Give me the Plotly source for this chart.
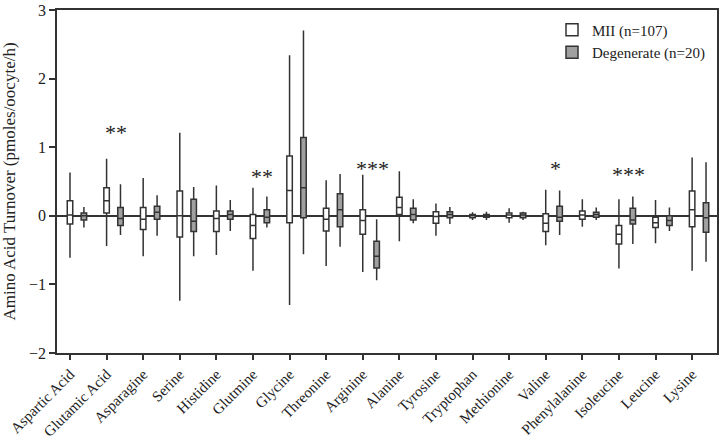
import plotly.graph_objects as go

categories = ["Aspartic Acid", "Glutamic Acid", "Asparagine", "Serine", "Histidine",
              "Glutmine", "Glycine", "Threonine", "Arginine", "Alanine", "Tyrosine",
              "Tryptophan", "Methionine", "Valine", "Phenylalanine", "Isoleucine",
              "Leucine", "Lysine"]

# MII (n=107)
mii_low = [-0.61, -0.44, -0.59, -1.24, -0.57, -0.80, -1.30, -0.73, -0.82, -0.37, -0.29, -0.06, -0.10, -0.43, -0.16, -0.77, -0.40, -0.80]
mii_q1  = [-0.12,  0.04, -0.20, -0.31, -0.23, -0.33, -0.10, -0.22, -0.27,  0.02, -0.11, -0.03, -0.03, -0.23, -0.05, -0.41, -0.17, -0.16]
mii_med = [ 0.01,  0.22, -0.05,  0.00, -0.04, -0.14,  0.37, -0.05, -0.07,  0.12, -0.01,  0.00,  0.01, -0.11,  0.01, -0.27, -0.10,  0.09]
mii_q3  = [ 0.22,  0.41,  0.12,  0.36,  0.07,  0.02,  0.87,  0.11,  0.09,  0.27,  0.06,  0.02,  0.04,  0.03,  0.07, -0.14, -0.02,  0.36]
mii_high = [0.63,  0.83,  0.55,  1.21,  0.44,  0.41,  2.34,  0.52,  0.60,  0.65,  0.18,  0.05,  0.11,  0.38,  0.24,  0.24,  0.23,  0.85]

# Degenerate (n=20)
deg_low = [-0.17, -0.28, -0.29, -0.59, -0.22, -0.17, -0.56, -0.45, -0.94, -0.11, -0.12, -0.06, -0.06, -0.28, -0.06, -0.41, -0.22, -0.67]
deg_q1  = [-0.06, -0.14, -0.05, -0.23, -0.05, -0.10, -0.03, -0.16, -0.76, -0.06, -0.03, -0.02, -0.03, -0.08, -0.02, -0.12, -0.14, -0.24]
deg_med = [ 0.00, -0.04,  0.05, -0.08,  0.02, -0.02,  0.41,  0.09, -0.59,  0.02,  0.02,  0.00,  0.01, -0.02,  0.02, -0.06, -0.07, -0.03]
deg_q3  = [ 0.04,  0.12,  0.14,  0.24,  0.07,  0.09,  1.14,  0.32, -0.37,  0.11,  0.06,  0.02,  0.04,  0.14,  0.05,  0.11,  0.00,  0.19]
deg_high = [0.13,  0.46,  0.30,  0.42,  0.23,  0.28,  2.70,  0.61, -0.05,  0.24,  0.13,  0.06,  0.06,  0.37,  0.12,  0.28,  0.12,  0.78]

# significance marks: category index, label, value height
sig_index = [1, 5, 8, 13, 15]
sig_label = ["**", "**", "***", "*", "***"]
sig_value = [1.32, 0.67, 0.79, 0.79, 0.70]

FONT = "Liberation Serif"
LINE = "#333333"
pos = list(range(len(categories)))
deg_offset = 0.38

fig = go.Figure()
fig.add_trace(go.Box(
    name="MII (n=107)", x=pos, q1=mii_q1, median=mii_med, q3=mii_q3,
    lowerfence=mii_low, upperfence=mii_high, width=0.15,
    fillcolor="white", line=dict(color=LINE, width=1.5), whiskerwidth=0,
    boxpoints=False))
fig.add_trace(go.Box(
    name="Degenerate (n=20)", x=[p + deg_offset for p in pos], q1=deg_q1, median=deg_med, q3=deg_q3,
    lowerfence=deg_low, upperfence=deg_high, width=0.15,
    fillcolor="#a0a0a0", line=dict(color=LINE, width=1.5), whiskerwidth=0,
    boxpoints=False))

for i, lab, v in zip(sig_index, sig_label, sig_value):
    fig.add_annotation(x=i + deg_offset / 2 + 0.07, y=v, text=lab, showarrow=False,
                       font=dict(family=FONT, size=22, color="#222"), yshift=-7)

fig.update_layout(
    width=721, height=440,
    margin=dict(l=57, r=4, t=10, b=87),
    paper_bgcolor="white", plot_bgcolor="white",
    boxmode="overlay",
    font=dict(family=FONT, color="#222"),
    showlegend=True,
    legend=dict(x=0.75, y=0.99, xanchor="left", yanchor="top",
                font=dict(family=FONT, size=15, color="#222"),
                bgcolor="rgba(0,0,0,0)", tracegroupgap=0, itemwidth=30),
)
fig.update_xaxes(
    range=[-0.355, 17.68], tickmode="array", tickvals=pos, ticktext=categories,
    tickangle=-45, tickfont=dict(family=FONT, size=15, color="#222"),
    ticks="outside", ticklen=5, tickcolor=LINE, tickwidth=1.5,
    showline=True, linecolor=LINE, linewidth=1.5, mirror=True,
    showgrid=False, zeroline=False, automargin=False)
fig.update_yaxes(
    range=[-2, 3], tickvals=[-2, -1, 0, 1, 2, 3],
    tickfont=dict(family=FONT, size=16, color="#222"),
    ticks="outside", ticklen=6, tickcolor=LINE, tickwidth=1.5,
    showline=True, linecolor=LINE, linewidth=1.5, mirror=True,
    showgrid=False, zeroline=True, zerolinecolor=LINE, zerolinewidth=1.5,
    automargin=False,
    title=dict(text="Amino Acid Turnover (pmoles/oocyte/h)",
               font=dict(family=FONT, size=17, color="#222"), standoff=14))

fig.write_html("out.html", config={"displayModeBar": False},
               post_script="document.body.style.margin='0px';document.body.style.overflow='hidden';")
